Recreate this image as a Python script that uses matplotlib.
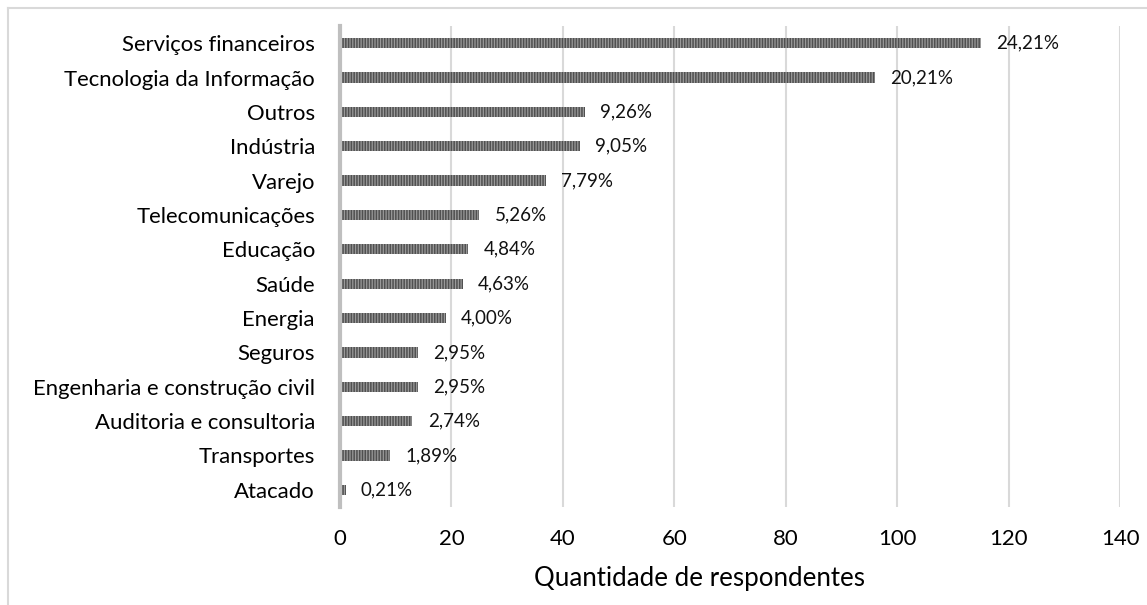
import matplotlib
matplotlib.use('Agg')
import matplotlib.pyplot as plt
from matplotlib.lines import Line2D

# dados do gráfico (de cima para baixo)
setores = ['Serviços financeiros', 'Tecnologia da Informação', 'Outros', 'Indústria',
           'Varejo', 'Telecomunicações', 'Educação', 'Saúde', 'Energia', 'Seguros',
           'Engenharia e construção civil', 'Auditoria e consultoria', 'Transportes', 'Atacado']
respondentes = [115, 96, 44, 43, 37, 25, 23, 22, 19, 14, 14, 13, 9, 1]
percentuais = ['24,21%', '20,21%', '9,26%', '9,05%', '7,79%', '5,26%', '4,84%',
               '4,63%', '4,00%', '2,95%', '2,95%', '2,74%', '1,89%', '0,21%']
xticks = [0, 20, 40, 60, 80, 100, 120, 140]

plt.rcParams['font.family'] = ['Lato', 'DejaVu Sans']
plt.rcParams['hatch.linewidth'] = 1.1
plt.rcParams['hatch.color'] = '#505050'

W, H = 1147, 605
fig = plt.figure(figsize=(W / 100, H / 100), dpi=100)
ax = fig.add_axes([340 / W, (H - 507) / H, 780 / W, 481 / H])

# moldura do gráfico
fig.add_artist(Line2D([8 / W, 1], [1 - 8 / H, 1 - 8 / H], color='#d9d9d9', lw=1.5))
fig.add_artist(Line2D([8 / W, 8 / W], [0, 1 - 8 / H], color='#d9d9d9', lw=1.5))

pos = list(range(len(setores)))
ax.barh(pos, respondentes, height=0.3, color='#9a9a9a', edgecolor='#505050',
        hatch='||||||', linewidth=0, zorder=3)

for p, v, t in zip(pos, respondentes, percentuais):
    ax.annotate(t, (v, p), xytext=(11, 0), textcoords='offset points',
                va='center', ha='left', fontsize=13.5, color='#111111')

ax.set_ylim(len(setores) - 0.5, -0.5)
ax.set_xlim(0, 140)
ax.set_yticks(pos)
ax.set_yticklabels(setores, fontsize=15.9)
ax.set_xticks(xticks)
ax.set_xticklabels([str(x) for x in xticks], fontsize=15.9)
ax.tick_params(axis='both', length=0)
ax.tick_params(axis='x', pad=16)
ax.tick_params(axis='y', pad=18)

ax.grid(axis='x', color='#d9d9d9', lw=1.5, zorder=0)
for s in ['top', 'right', 'bottom']:
    ax.spines[s].set_visible(False)
ax.spines['left'].set_color('#bfbfbf')
ax.spines['left'].set_linewidth(3)
ax.spines['left'].set_zorder(4)

ax.set_xlabel('Quantidade de respondentes', fontsize=18.6)
ax.xaxis.set_label_coords((699 - 340) / 780, -0.122)

fig.savefig('out.png', dpi=100)
